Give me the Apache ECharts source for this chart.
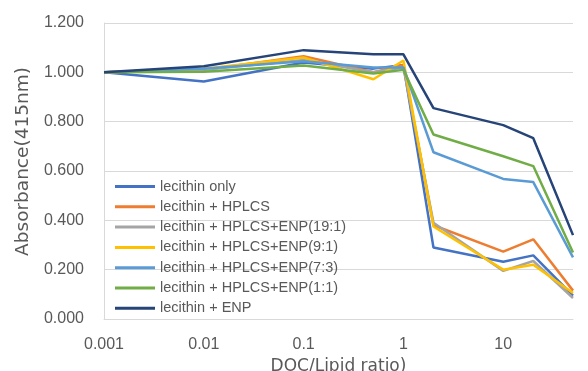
<!DOCTYPE html>
<html><head><meta charset="utf-8">
<script src="https://cdn.jsdelivr.net/npm/echarts@6/dist/echarts.min.js"></script>
<style>html,body{margin:0;padding:0;background:#fff}#c{width:588px;height:371px}</style>
</head><body><div id="c"></div>
<script>
var xValues = [0.001, 0.01, 0.1, 0.5, 1, 2, 10, 20, 50];
var seriesNames = ['lecithin only','lecithin + HPLCS','lecithin + HPLCS+ENP(19:1)','lecithin + HPLCS+ENP(9:1)','lecithin + HPLCS+ENP(7:3)','lecithin + HPLCS+ENP(1:1)','lecithin + ENP'];
var lecithinOnly = [1.0, 0.963, 1.04, 1.015, 1.03, 0.29, 0.232, 0.258, 0.095];
var hplcs        = [1.0, 1.01, 1.065, 1.0, 1.03, 0.38, 0.273, 0.323, 0.115];
var enp19_1      = [1.0, 1.01, 1.05, 1.0, 1.02, 0.39, 0.195, 0.235, 0.085];
var enp9_1       = [1.0, 1.015, 1.06, 0.972, 1.048, 0.375, 0.2, 0.22, 0.105];
var enp7_3       = [1.0, 1.015, 1.045, 1.02, 1.02, 0.676, 0.568, 0.555, 0.25];
var enp1_1       = [1.0, 1.002, 1.028, 0.995, 1.01, 0.748, 0.66, 0.62, 0.27];
var enpOnly      = [1.0, 1.025, 1.09, 1.073, 1.073, 0.855, 0.786, 0.733, 0.34];
var colors = ['#4472C4','#ED7D31','#A5A5A5','#FFC000','#5B9BD5','#70AD47','#264478'];
var allData = [lecithinOnly, hplcs, enp19_1, enp9_1, enp7_3, enp1_1, enpOnly];

var chart = echarts.init(document.getElementById('c'));
var font = 'Liberation Sans, Arial, sans-serif';
var titleFont = 'DejaVu Sans, sans-serif';
chart.setOption({
  animation: false,
  color: colors,
  grid: {left: 104, right: 15, top: 23, bottom: 52, containLabel: false, outerBoundsMode: 'none'},
  legend: {
    orient: 'vertical', left: 110, top: 174, itemGap: 5.3, itemWidth: 40, itemHeight: 3,
    icon: 'rect',
    textStyle: {fontFamily: font, fontSize: 14.5, color: '#595959'},
    data: seriesNames
  },
  xAxis: {
    type: 'log', logBase: 10, min: 0.001, max: 50,
    name: 'DOC/Lipid ratio)', nameLocation: 'middle', nameGap: 30,
    nameTextStyle: {fontFamily: titleFont, fontSize: 17, color: '#595959'},
    axisLine: {show: true, lineStyle: {color: '#d9d9d9', width: 1}},
    axisTick: {show: false},
    splitLine: {show: false},
    axisLabel: {fontFamily: font, fontSize: 16, color: '#595959', margin: 18, showMaxLabel: false,
      formatter: function(v){ return String(v); }}
  },
  yAxis: {
    type: 'value', min: 0, max: 1.2, interval: 0.2,
    name: 'Absorbance(415nm)', nameLocation: 'middle', nameGap: 69,
    nameTextStyle: {fontFamily: titleFont, fontSize: 18.5, color: '#595959', padding: [0, 0, 0, 19]},
    axisLine: {show: true, lineStyle: {color: '#d9d9d9', width: 1}},
    axisTick: {show: false},
    splitLine: {show: true, lineStyle: {color: '#d9d9d9', width: 1}},
    axisLabel: {fontFamily: font, fontSize: 16, color: '#595959', margin: 20, padding: [0, 0, 4, 0],
      formatter: function(v){ return v.toFixed(3); }}
  },
  series: seriesNames.map(function(n, i){
    return {
      name: n, type: 'line', showSymbol: false, symbol: 'none',
      lineStyle: {width: 2.5, color: colors[i]},
      data: xValues.map(function(x, j){ return [x, allData[i][j]]; })
    };
  })
});
</script></body></html>
